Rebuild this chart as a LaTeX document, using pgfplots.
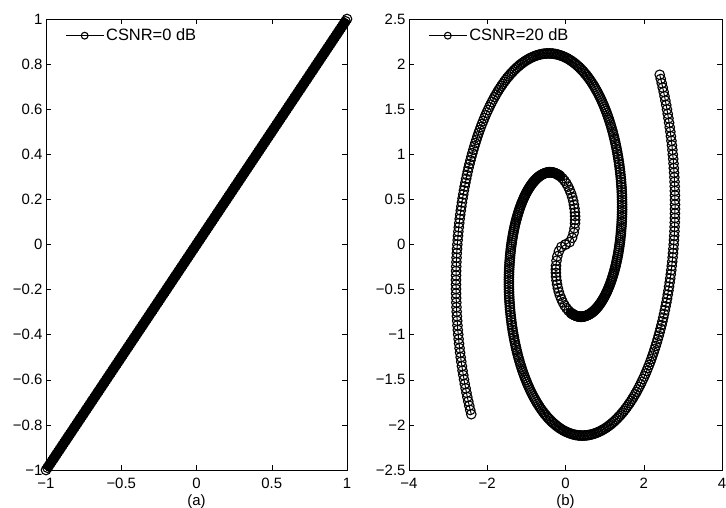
\documentclass[border=0pt]{standalone}
\usepackage{pgfplots}
\pgfplotsset{compat=1.18}
\usepackage{pgfplotstable}
\usepackage{fontspec}
\setmainfont{Liberation Sans}

\pgfplotstableread{
a r n
0 0 0
14 0.108 -0.108
24 0.184 -0.184
32 0.246 -0.246
38 0.292 -0.292
44 0.338 -0.338
48 0.369 -0.369
52 0.399 -0.399
56 0.430 -0.430
60 0.461 -0.461
64 0.491 -0.491
68 0.522 -0.522
72 0.553 -0.553
76 0.584 -0.584
80 0.614 -0.614
84 0.645 -0.645
88 0.676 -0.676
92 0.707 -0.707
96 0.737 -0.737
100 0.768 -0.768
101 0.776 -0.776
102 0.783 -0.783
103 0.791 -0.791
104 0.799 -0.799
105 0.806 -0.806
106 0.814 -0.814
107 0.822 -0.822
108 0.829 -0.829
109 0.837 -0.837
110 0.845 -0.845
111 0.852 -0.852
112 0.860 -0.860
113 0.868 -0.868
114 0.875 -0.875
115 0.883 -0.883
116 0.891 -0.891
117 0.899 -0.899
118 0.906 -0.906
119 0.914 -0.914
120 0.922 -0.922
121 0.929 -0.929
122 0.937 -0.937
123 0.945 -0.945
124 0.952 -0.952
125 0.960 -0.960
126 0.968 -0.968
127 0.975 -0.975
128 0.983 -0.983
129 0.991 -0.991
130 0.998 -0.998
131 1.006 -1.006
132 1.014 -1.014
133 1.021 -1.021
134 1.029 -1.029
135 1.037 -1.037
136 1.044 -1.044
137 1.052 -1.052
138 1.060 -1.060
139 1.067 -1.067
140 1.075 -1.075
141 1.083 -1.083
142 1.090 -1.090
143 1.098 -1.098
144 1.106 -1.106
145 1.114 -1.114
146 1.121 -1.121
147 1.129 -1.129
148 1.137 -1.137
149 1.144 -1.144
150 1.152 -1.152
151 1.160 -1.160
152 1.167 -1.167
153 1.175 -1.175
154 1.183 -1.183
155 1.190 -1.190
156 1.198 -1.198
157 1.206 -1.206
158 1.213 -1.213
159 1.221 -1.221
160 1.229 -1.229
161 1.236 -1.236
162 1.244 -1.244
163 1.252 -1.252
164 1.259 -1.259
165 1.267 -1.267
166 1.275 -1.275
167 1.282 -1.282
168 1.290 -1.290
169 1.298 -1.298
170 1.306 -1.306
171 1.313 -1.313
172 1.321 -1.321
173 1.329 -1.329
174 1.336 -1.336
175 1.344 -1.344
176 1.352 -1.352
177 1.359 -1.359
178 1.367 -1.367
179 1.375 -1.375
180 1.382 -1.382
181 1.390 -1.390
182 1.398 -1.398
183 1.405 -1.405
184 1.413 -1.413
185 1.421 -1.421
186 1.428 -1.428
187 1.436 -1.436
188 1.444 -1.444
189 1.451 -1.451
190 1.459 -1.459
191 1.467 -1.467
192 1.474 -1.474
193 1.482 -1.482
194 1.490 -1.490
195 1.498 -1.498
196 1.505 -1.505
197 1.513 -1.513
198 1.521 -1.521
199 1.528 -1.528
200 1.536 -1.536
201 1.544 -1.544
202 1.551 -1.551
203 1.559 -1.559
204 1.567 -1.567
205 1.574 -1.574
206 1.582 -1.582
207 1.590 -1.590
208 1.597 -1.597
209 1.605 -1.605
210 1.613 -1.613
211 1.620 -1.620
212 1.628 -1.628
213 1.636 -1.636
214 1.643 -1.643
215 1.651 -1.651
216 1.659 -1.659
217 1.666 -1.666
218 1.674 -1.674
219 1.682 -1.682
220 1.689 -1.689
221 1.697 -1.697
222 1.705 -1.705
223 1.713 -1.713
224 1.720 -1.720
225 1.728 -1.728
226 1.736 -1.736
227 1.743 -1.743
228 1.751 -1.751
229 1.759 -1.759
230 1.766 -1.766
231 1.774 -1.774
232 1.782 -1.782
233 1.789 -1.789
234 1.797 -1.797
235 1.805 -1.805
236 1.812 -1.812
237 1.820 -1.820
238 1.828 -1.828
239 1.835 -1.835
240 1.843 -1.843
241 1.851 -1.851
242 1.858 -1.858
243 1.866 -1.866
244 1.874 -1.874
245 1.881 -1.881
246 1.889 -1.889
247 1.897 -1.897
248 1.905 -1.905
249 1.912 -1.912
250 1.920 -1.920
251 1.928 -1.928
252 1.935 -1.935
253 1.943 -1.943
254 1.951 -1.951
255 1.958 -1.958
256 1.966 -1.966
257 1.974 -1.974
258 1.981 -1.981
259 1.989 -1.989
260 1.997 -1.997
261 2.004 -2.004
262 2.012 -2.012
263 2.020 -2.020
264 2.027 -2.027
265 2.035 -2.035
266 2.043 -2.043
267 2.050 -2.050
268 2.058 -2.058
269 2.066 -2.066
270 2.073 -2.073
271 2.081 -2.081
272 2.089 -2.089
273 2.096 -2.096
274 2.104 -2.104
275 2.112 -2.112
276 2.120 -2.120
277 2.127 -2.127
278 2.135 -2.135
279 2.143 -2.143
280 2.150 -2.150
281 2.158 -2.158
282 2.166 -2.166
283 2.173 -2.173
284 2.181 -2.181
285 2.189 -2.189
286 2.196 -2.196
287 2.204 -2.204
288 2.212 -2.212
289 2.219 -2.219
290 2.227 -2.227
291 2.235 -2.235
292 2.242 -2.242
293 2.250 -2.250
294 2.258 -2.258
295 2.265 -2.265
296 2.273 -2.273
297 2.281 -2.281
298 2.288 -2.288
299 2.296 -2.296
300 2.304 -2.304
301 2.312 -2.312
302 2.319 -2.319
303 2.327 -2.327
304 2.335 -2.335
305 2.342 -2.342
306 2.350 -2.350
307 2.358 -2.358
308 2.365 -2.365
309 2.373 -2.373
310 2.381 -2.381
311 2.388 -2.388
312 2.396 -2.396
313 2.404 -2.404
314 2.411 -2.411
315 2.419 -2.419
316 2.427 -2.427
317 2.434 -2.434
318 2.442 -2.442
319 2.450 -2.450
320 2.457 -2.457
321 2.465 -2.465
322 2.473 -2.473
323 2.480 -2.480
324 2.488 -2.488
325 2.496 -2.496
326 2.504 -2.504
327 2.511 -2.511
328 2.519 -2.519
329 2.527 -2.527
330 2.534 -2.534
331 2.542 -2.542
332 2.550 -2.550
333 2.557 -2.557
334 2.565 -2.565
335 2.573 -2.573
336 2.580 -2.580
337 2.588 -2.588
338 2.596 -2.596
339 2.603 -2.603
340 2.611 -2.611
341 2.619 -2.619
342 2.626 -2.626
343 2.634 -2.634
344 2.642 -2.642
345 2.649 -2.649
346 2.657 -2.657
347 2.665 -2.665
348 2.672 -2.672
349 2.680 -2.680
350 2.688 -2.688
351 2.695 -2.695
352 2.703 -2.703
353 2.711 -2.711
354 2.719 -2.719
355 2.726 -2.726
356 2.734 -2.734
357 2.742 -2.742
358 2.749 -2.749
359 2.757 -2.757
360 2.765 -2.765
361 2.772 -2.772
362 2.780 -2.780
363 2.788 -2.788
364 2.795 -2.795
365 2.803 -2.803
366 2.811 -2.811
367 2.818 -2.818
368 2.826 -2.826
369 2.834 -2.834
370 2.841 -2.841
371 2.849 -2.849
372 2.857 -2.857
373 2.864 -2.864
374 2.872 -2.872
375 2.880 -2.880
376 2.887 -2.887
377 2.895 -2.895
378 2.903 -2.903
379 2.911 -2.911
380 2.918 -2.918
381 2.926 -2.926
382 2.934 -2.934
383 2.941 -2.941
384 2.949 -2.949
385 2.957 -2.957
386 2.964 -2.964
387 2.972 -2.972
388 2.980 -2.980
389 2.987 -2.987
390 2.995 -2.995
391 3.003 -3.003
392 3.010 -3.010
393 3.018 -3.018
394 3.026 -3.026
395 3.033 -3.033
396 3.041 -3.041
397 3.049 -3.049
398 3.056 -3.056
}\spiral

\pgfplotsset{
  panel/.style={
    scale only axis,
    font=\fontsize{15}{17}\selectfont,
    tick align=inside,
    major tick length=5bp,
    tick style={black,line width=0.5bp},
    axis line style={black,line width=0.6bp},
    clip=false,
    legend cell align=left,
    legend style={draw=none,fill=none,anchor=west,
      font=\fontsize{16.5}{18}\selectfont,inner sep=0pt,
      nodes={inner sep=2bp}},
    legend image code/.code={\draw[mark repeat=2,mark phase=2,##1,mark size=3.4bp] plot coordinates {(0bp,0bp) (19bp,0bp) (38bp,0bp)};},
    xticklabel style={yshift=-5bp},
    xlabel style={yshift=1bp},
  },
  circ/.style={black,line width=1bp,mark=o,mark size=4.8bp,mark options={solid,line width=1.1bp}},
}

\begin{document}
\begin{tikzpicture}
\path[use as bounding box] (0bp,0bp) rectangle (726bp,508bp);
\begin{axis}[panel,
  at={(46bp,38bp)},anchor=south west,
  width=301bp,height=451bp,
  xmin=-1,xmax=1,ymin=-1,ymax=1,
  legend style={at={(0.063,0.963)}},
  xtick={-1,-0.5,0,0.5,1},
  xticklabels={−1,−0.5,0,0.5,1},
  ytick={-1,-0.8,-0.6,-0.4,-0.2,0,0.2,0.4,0.6,0.8,1},
  yticklabels={−1,−0.8,−0.6,−0.4,−0.2,0,0.2,0.4,0.6,0.8,1},
  xlabel={(a)}]
\addplot[black,line width=9bp,forget plot] coordinates {(-1,-1) (1,1)};
\addplot[circ] table[row sep=\\,x=v,y=v] {v\\ -1\\ -0.99\\ -0.98\\ -0.97\\ -0.96\\ -0.95\\ -0.94\\ -0.93\\ -0.92\\ -0.91\\ -0.9\\ -0.89\\ -0.88\\ -0.87\\ -0.86\\ -0.85\\ -0.84\\ -0.83\\ -0.82\\ -0.81\\ -0.8\\ -0.79\\ -0.78\\ -0.77\\ -0.76\\ -0.75\\ -0.74\\ -0.73\\ -0.72\\ -0.71\\ -0.7\\ -0.69\\ -0.68\\ -0.67\\ -0.66\\ -0.65\\ -0.64\\ -0.63\\ -0.62\\ -0.61\\ -0.6\\ -0.59\\ -0.58\\ -0.57\\ -0.56\\ -0.55\\ -0.54\\ -0.53\\ -0.52\\ -0.51\\ -0.5\\ -0.49\\ -0.48\\ -0.47\\ -0.46\\ -0.45\\ -0.44\\ -0.43\\ -0.42\\ -0.41\\ -0.4\\ -0.39\\ -0.38\\ -0.37\\ -0.36\\ -0.35\\ -0.34\\ -0.33\\ -0.32\\ -0.31\\ -0.3\\ -0.29\\ -0.28\\ -0.27\\ -0.26\\ -0.25\\ -0.24\\ -0.23\\ -0.22\\ -0.21\\ -0.2\\ -0.19\\ -0.18\\ -0.17\\ -0.16\\ -0.15\\ -0.14\\ -0.13\\ -0.12\\ -0.11\\ -0.1\\ -0.09\\ -0.08\\ -0.07\\ -0.06\\ -0.05\\ -0.04\\ -0.03\\ -0.02\\ -0.01\\ 0\\ 0.01\\ 0.02\\ 0.03\\ 0.04\\ 0.05\\ 0.06\\ 0.07\\ 0.08\\ 0.09\\ 0.1\\ 0.11\\ 0.12\\ 0.13\\ 0.14\\ 0.15\\ 0.16\\ 0.17\\ 0.18\\ 0.19\\ 0.2\\ 0.21\\ 0.22\\ 0.23\\ 0.24\\ 0.25\\ 0.26\\ 0.27\\ 0.28\\ 0.29\\ 0.3\\ 0.31\\ 0.32\\ 0.33\\ 0.34\\ 0.35\\ 0.36\\ 0.37\\ 0.38\\ 0.39\\ 0.4\\ 0.41\\ 0.42\\ 0.43\\ 0.44\\ 0.45\\ 0.46\\ 0.47\\ 0.48\\ 0.49\\ 0.5\\ 0.51\\ 0.52\\ 0.53\\ 0.54\\ 0.55\\ 0.56\\ 0.57\\ 0.58\\ 0.59\\ 0.6\\ 0.61\\ 0.62\\ 0.63\\ 0.64\\ 0.65\\ 0.66\\ 0.67\\ 0.68\\ 0.69\\ 0.7\\ 0.71\\ 0.72\\ 0.73\\ 0.74\\ 0.75\\ 0.76\\ 0.77\\ 0.78\\ 0.79\\ 0.8\\ 0.81\\ 0.82\\ 0.83\\ 0.84\\ 0.85\\ 0.86\\ 0.87\\ 0.88\\ 0.89\\ 0.9\\ 0.91\\ 0.92\\ 0.93\\ 0.94\\ 0.95\\ 0.96\\ 0.97\\ 0.98\\ 0.99\\ 1\\};
\addlegendentry{CSNR=0 dB}
\end{axis}
\begin{axis}[panel,
  at={(409bp,38bp)},anchor=south west,
  width=313bp,height=451bp,
  xmin=-4,xmax=4,ymin=-2.5,ymax=2.5,
  legend style={at={(0.061,0.963)}},
  xtick={-4,-2,0,2,4},
  xticklabels={−4,−2,0,2,4},
  ytick={-2.5,-2,-1.5,-1,-0.5,0,0.5,1,1.5,2,2.5},
  yticklabels={−2.5,−2,−1.5,−1,−0.5,0,0.5,1,1.5,2,2.5},
  xlabel={(b)}]
\addplot[circ,data cs=polar] table[x=a,y=r] {\spiral};
\addlegendentry{CSNR=20 dB}
\addplot[circ,data cs=polar,forget plot] table[x=a,y=n] {\spiral};
\end{axis}
\end{tikzpicture}
\end{document}
